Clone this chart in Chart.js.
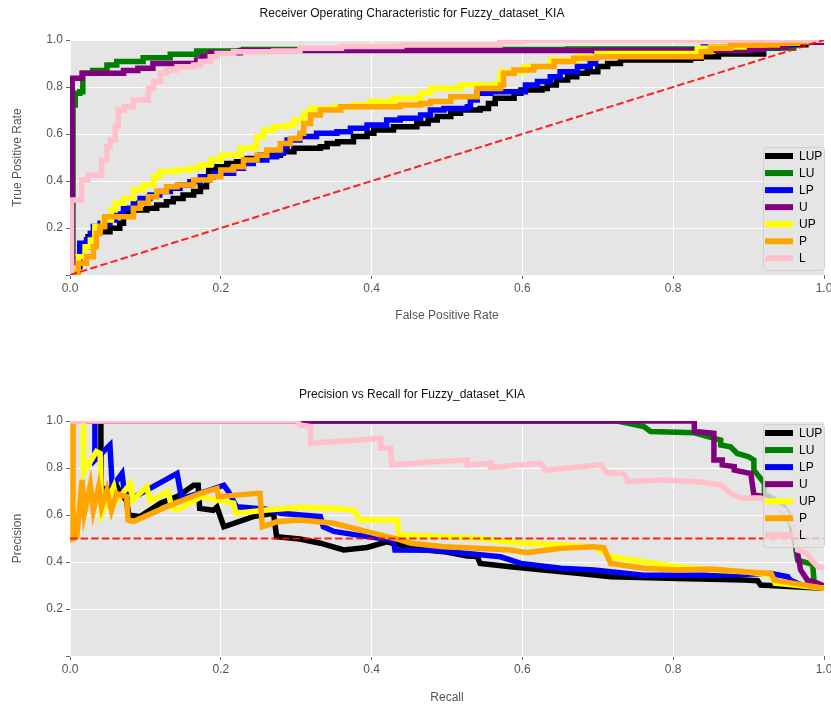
<!DOCTYPE html>
<html><head><meta charset="utf-8">
<script src="https://cdn.jsdelivr.net/npm/chart.js@4/dist/chart.umd.min.js"></script>
<style>
html,body{margin:0;padding:0;background:#fff;}
#wrap{position:relative;width:831px;height:708px;overflow:hidden;}
.box{position:absolute;left:0;width:831px;}
canvas{display:block;}
</style></head><body>
<div id="wrap">
<div class="box" style="top:0;height:345px"><canvas id="roc" width="831" height="345"></canvas></div>
<div class="box" style="top:355px;height:353px"><canvas id="pr" width="831" height="353"></canvas></div>
</div>
<script>
// ---------- data ----------
const seriesNames = ['LUP','LU','LP','U','UP','P','L'];
const tickValues = [0, 0.2, 0.4, 0.6, 0.8, 1.0];

// ROC curves (false positive rate / true positive rate)
const rocLupFpr = [0,0.002,0.013,0.024,0.031,0.04,0.053,0.066,0.071,0.084,0.102,0.115,0.128,0.137,0.15,0.164,0.173,0.181,0.184,0.195,0.208,0.221,0.235,0.252,0.279,0.297,0.332,0.341,0.355,0.376,0.394,0.403,0.429,0.46,0.475,0.487,0.505,0.518,0.544,0.555,0.564,0.589,0.598,0.626,0.633,0.645,0.66,0.672,0.686,0.70,0.713,0.73,0.823,0.837,0.86,0.92,0.94,0.958,0.976,1.0];
const rocLupTpr = [0,0.035,0.12,0.163,0.18,0.184,0.199,0.22,0.263,0.277,0.284,0.298,0.312,0.326,0.34,0.355,0.376,0.404,0.447,0.461,0.475,0.482,0.496,0.51,0.525,0.539,0.546,0.56,0.567,0.589,0.603,0.617,0.631,0.645,0.66,0.674,0.688,0.702,0.709,0.73,0.752,0.773,0.787,0.794,0.809,0.83,0.844,0.858,0.865,0.887,0.9,0.915,0.922,0.929,0.94,0.965,0.97,0.98,0.99,1.0];

const rocLuFpr = [0,0.004,0.007,0.013,0.017,0.03,0.049,0.062,0.097,0.133,0.168,0.23,0.66,0.9,0.96,0.975,1.0];
const rocLuTpr = [0,0.723,0.773,0.78,0.858,0.87,0.894,0.908,0.925,0.939,0.953,0.96,0.962,0.966,0.99,1.0,1.0];

const rocLpFpr = [0,0.002,0.007,0.013,0.022,0.027,0.031,0.04,0.053,0.06,0.071,0.084,0.093,0.106,0.119,0.133,0.146,0.159,0.173,0.19,0.217,0.23,0.243,0.261,0.274,0.283,0.288,0.305,0.327,0.354,0.372,0.394,0.42,0.438,0.465,0.478,0.496,0.527,0.531,0.54,0.558,0.604,0.62,0.637,0.65,0.673,0.69,0.697,0.70,0.828,0.84,0.9,0.96,1.0];
const rocLpTpr = [0,0.05,0.07,0.135,0.15,0.177,0.206,0.22,0.234,0.26,0.284,0.305,0.326,0.34,0.355,0.369,0.383,0.397,0.418,0.433,0.454,0.475,0.489,0.503,0.518,0.546,0.574,0.589,0.603,0.61,0.624,0.638,0.66,0.667,0.681,0.702,0.709,0.716,0.745,0.773,0.78,0.809,0.823,0.844,0.865,0.887,0.9,0.943,0.955,0.957,0.97,0.98,1.0,1.0];

const rocUFpr = [0,0.003,0.003,0.016,0.071,0.09,0.11,0.168,0.175,0.186,0.226,0.9,0.92,0.95,1.0];
const rocUTpr = [0,0.333,0.837,0.858,0.87,0.88,0.9,0.915,0.932,0.946,0.955,0.96,0.97,0.99,1.0];

const rocUpFpr = [0,0.002,0.011,0.02,0.027,0.033,0.044,0.055,0.06,0.071,0.084,0.097,0.111,0.119,0.142,0.159,0.173,0.186,0.2,0.226,0.243,0.248,0.257,0.27,0.288,0.297,0.31,0.319,0.35,0.376,0.398,0.429,0.465,0.478,0.518,0.567,0.571,0.602,0.637,0.673,0.699,0.832,0.85,0.894,0.92,0.95,1.0];
const rocUpTpr = [0,0.03,0.078,0.12,0.149,0.206,0.234,0.277,0.305,0.326,0.362,0.383,0.418,0.44,0.447,0.454,0.468,0.489,0.51,0.539,0.546,0.589,0.617,0.631,0.638,0.66,0.688,0.709,0.716,0.723,0.738,0.752,0.773,0.794,0.809,0.823,0.865,0.887,0.915,0.929,0.943,0.965,0.97,0.98,0.993,1.0,1.0];

const rocPFpr = [0,0.003,0.011,0.022,0.031,0.035,0.04,0.046,0.082,0.084,0.093,0.104,0.115,0.128,0.142,0.164,0.186,0.2,0.217,0.23,0.248,0.261,0.279,0.292,0.305,0.31,0.319,0.332,0.359,0.438,0.465,0.478,0.505,0.54,0.571,0.575,0.589,0.615,0.642,0.668,0.699,0.828,0.837,0.85,0.876,0.938,0.965,0.98,1.0];
const rocPTpr = [0,0.01,0.05,0.078,0.12,0.177,0.206,0.248,0.248,0.284,0.305,0.333,0.355,0.376,0.383,0.404,0.418,0.447,0.461,0.489,0.51,0.532,0.56,0.581,0.603,0.645,0.681,0.702,0.716,0.723,0.73,0.738,0.759,0.794,0.809,0.858,0.872,0.887,0.908,0.922,0.929,0.929,0.95,0.965,0.979,0.986,0.993,1.0,1.0];

const rocLFpr = [0,0.002,0.0155,0.024,0.042,0.049,0.053,0.06,0.064,0.072,0.084,0.104,0.111,0.12,0.128,0.142,0.164,0.173,0.186,0.195,0.217,0.27,0.305,0.36,0.44,0.57,0.6,1.0];
const rocLTpr = [0,0.319,0.404,0.425,0.489,0.546,0.574,0.631,0.702,0.716,0.745,0.794,0.823,0.858,0.872,0.886,0.894,0.908,0.929,0.943,0.95,0.953,0.965,0.972,0.979,0.993,1.0,1.0];

const chanceFpr = [0, 1];
const chanceTpr = [0, 1];

// Precision-recall curves (recall / precision)
const prLupRecall = [0,0.041,0.041,0.05,0.06,0.066,0.075,0.078,0.093,0.12,0.142,0.164,0.17,0.172,0.19,0.195,0.204,0.243,0.27,0.274,0.305,0.332,0.363,0.394,0.42,0.438,0.465,0.496,0.527,0.54,0.544,0.584,0.628,0.673,0.717,0.806,0.894,0.912,0.916,0.96,1.0];
const prLupPrecision = [1.0,1.0,0.72,0.70,0.735,0.70,0.66,0.60,0.593,0.65,0.678,0.727,0.727,0.628,0.62,0.634,0.55,0.593,0.607,0.508,0.498,0.48,0.451,0.462,0.486,0.472,0.453,0.444,0.425,0.423,0.394,0.38,0.366,0.352,0.337,0.33,0.323,0.32,0.302,0.295,0.288];

const prLuRecall = [0,0.726,0.761,0.77,0.828,0.863,0.863,0.876,0.885,0.9,0.907,0.907,0.921,0.921,0.943,0.952,0.96,0.965,0.985,0.987,1.0];
const prLuPrecision = [1.0,1.0,0.976,0.955,0.95,0.919,0.898,0.89,0.862,0.848,0.834,0.791,0.735,0.69,0.65,0.607,0.508,0.408,0.39,0.31,0.29];

const prLpRecall = [0,0.033,0.033,0.053,0.056,0.069,0.072,0.082,0.142,0.148,0.18,0.204,0.21,0.221,0.26,0.279,0.332,0.336,0.35,0.394,0.429,0.431,0.482,0.527,0.571,0.598,0.651,0.695,0.761,0.85,0.93,0.952,0.955,0.97,1.0];
const prLpPrecision = [1.0,1.0,0.834,0.898,0.72,0.777,0.70,0.671,0.777,0.671,0.70,0.727,0.70,0.635,0.625,0.607,0.593,0.55,0.53,0.508,0.494,0.451,0.45,0.436,0.422,0.394,0.373,0.366,0.344,0.344,0.351,0.337,0.323,0.302,0.288];

const prURecall = [0,0.828,0.828,0.854,0.854,0.865,0.865,0.881,0.881,0.903,0.907,0.921,0.94,0.956,0.962,0.965,0.969,0.978,0.992,1.0];
const prUPrecision = [1.0,1.0,0.955,0.948,0.834,0.834,0.813,0.806,0.791,0.776,0.685,0.678,0.64,0.579,0.5,0.437,0.366,0.323,0.309,0.298];

const prUpRecall = [0,0.018,0.018,0.035,0.04,0.042,0.058,0.062,0.08,0.083,0.102,0.106,0.13,0.135,0.142,0.173,0.2,0.217,0.22,0.261,0.305,0.35,0.376,0.385,0.434,0.436,0.491,0.54,0.593,0.651,0.695,0.717,0.761,0.806,0.85,0.894,0.93,0.935,0.96,1.0];
const prUpPrecision = [1.0,1.0,0.78,0.87,0.862,0.607,0.72,0.66,0.734,0.663,0.72,0.66,0.70,0.63,0.621,0.676,0.66,0.65,0.607,0.621,0.632,0.628,0.621,0.579,0.579,0.515,0.508,0.501,0.482,0.473,0.465,0.422,0.401,0.38,0.366,0.359,0.344,0.31,0.302,0.288];

const prPRecall = [0,0.004,0.004,0.009,0.016,0.019,0.027,0.031,0.038,0.042,0.049,0.055,0.062,0.066,0.075,0.077,0.084,0.128,0.173,0.195,0.197,0.248,0.252,0.255,0.274,0.305,0.35,0.394,0.438,0.452,0.496,0.54,0.584,0.606,0.651,0.695,0.708,0.717,0.761,0.806,0.85,0.894,0.93,0.934,0.96,1.0];
const prPPrecision = [1.0,1.0,0.5,0.508,0.749,0.607,0.728,0.62,0.72,0.635,0.706,0.62,0.692,0.685,0.678,0.579,0.572,0.635,0.692,0.713,0.678,0.692,0.692,0.55,0.571,0.579,0.565,0.529,0.494,0.48,0.465,0.458,0.451,0.44,0.458,0.465,0.46,0.394,0.373,0.366,0.37,0.359,0.351,0.323,0.309,0.288];

const prLRecall = [0,0.301,0.305,0.319,0.319,0.412,0.412,0.425,0.427,0.482,0.527,0.527,0.558,0.558,0.624,0.631,0.651,0.704,0.712,0.735,0.74,0.784,0.832,0.863,0.876,0.889,0.916,0.947,0.96,0.965,0.978,0.983,0.992,1.0];
const prLPrecision = [1.0,1.0,0.983,0.976,0.905,0.926,0.884,0.884,0.813,0.827,0.834,0.813,0.82,0.802,0.82,0.791,0.798,0.813,0.78,0.775,0.742,0.749,0.742,0.728,0.693,0.672,0.672,0.621,0.55,0.451,0.437,0.409,0.38,0.373];

const baselineRecall = [0, 1];
const baselinePrecision = [0.5, 0.5];

// ---------- styling ----------
const seriesColors = ['#000000','#008000','#0000ff','#800080','#ffff00','#ffa500','#ffc0cb'];
const FONT = '"Liberation Sans", Arial, "DejaVu Sans", sans-serif';
Chart.defaults.font.family = FONT;
Chart.defaults.font.size = 12;

function pts(xs, ys) { return xs.map((x, i) => ({x: x, y: ys[i]})); }

const rocSeries = [[rocLupFpr,rocLupTpr],[rocLuFpr,rocLuTpr],[rocLpFpr,rocLpTpr],[rocUFpr,rocUTpr],[rocUpFpr,rocUpTpr],[rocPFpr,rocPTpr],[rocLFpr,rocLTpr]];
const prSeries = [[prLupRecall,prLupPrecision],[prLuRecall,prLuPrecision],[prLpRecall,prLpPrecision],[prURecall,prUPrecision],[prUpRecall,prUpPrecision],[prPRecall,prPPrecision],[prLRecall,prLPrecision]];

function buildDatasets(series, stepped, refX, refY) {
  const ds = series.map((s, i) => ({
    label: seriesNames[i],
    data: pts(s[0], s[1]),
    borderColor: seriesColors[i],
    backgroundColor: seriesColors[i],
    borderWidth: 5.5,
    pointRadius: 0,
    tension: 0,
    stepped: stepped,
    fill: false,
    clip: 0,
    borderJoinStyle: 'miter',
    order: seriesNames.length - i
  }));
  ds.push({
    label: 'ref',
    isRef: true,
    data: pts(refX, refY),
    borderColor: 'rgba(255,0,0,0.85)',
    borderWidth: 2,
    borderDash: [7.4, 3.2],
    pointRadius: 0,
    tension: 0,
    fill: false,
    clip: 0,
    order: 0
  });
  return ds;
}

const bgPlugin = {
  id: 'axbg',
  beforeDraw(chart) {
    const {ctx, chartArea: a} = chart;
    ctx.save();
    ctx.fillStyle = '#e5e5e5';
    ctx.fillRect(a.left, a.top, a.right - a.left, a.bottom - a.top);
    ctx.restore();
  }
};

const boxLegend = {
  id: 'boxLegend',
  afterDraw(chart, args, opts) {
    const ctx = chart.ctx, a = chart.chartArea;
    const items = chart.data.datasets.filter(d => !d.isRef);
    const rowH = 17.05, w = 62, h = 123;
    const left = a.right + 1 - w;
    const top = opts.where === 'top' ? a.top + 3 : a.bottom - 5 - h;
    ctx.save();
    ctx.beginPath();
    if (ctx.roundRect) ctx.roundRect(left + 0.5, top + 0.5, w - 1, h, 3); else ctx.rect(left + 0.5, top + 0.5, w - 1, h);
    ctx.fillStyle = 'rgba(229,229,229,0.8)';
    ctx.fill();
    ctx.strokeStyle = 'rgba(204,204,204,0.8)';
    ctx.lineWidth = 1;
    ctx.stroke();
    items.forEach((d, i) => {
      const cy = top + 9 + i * rowH;
      ctx.strokeStyle = d.borderColor;
      ctx.lineWidth = 6;
      ctx.beginPath();
      ctx.moveTo(left + 2, cy);
      ctx.lineTo(left + 30, cy);
      ctx.stroke();
      ctx.fillStyle = '#000';
      ctx.font = '12px ' + FONT;
      ctx.textBaseline = 'middle';
      ctx.textAlign = 'left';
      ctx.fillText(d.label, left + 36, cy + 0.5);
    });
    ctx.restore();
  }
};

function axis(titleText, isX, fitSize, titlePad) {
  return {
    type: 'linear', min: 0, max: 1,
    afterBuildTicks: s => { s.ticks = tickValues.map(v => ({value: v})); },
    ticks: {
      callback: v => (isX || v !== 0) ? Number(v).toFixed(1) : '',
      color: '#555', font: {size: 12}, padding: isX ? 2 : 3,
      maxRotation: 0, autoSkip: false
    },
    grid: {color: '#ffffff', lineWidth: 1, tickColor: '#666', tickLength: 4, drawTicks: true},
    border: {display: false},
    title: {display: true, text: titleText, color: '#555', font: {size: 12}, padding: titlePad},
    afterFit: s => {
      if (isX) { s.height = fitSize; s.paddingLeft = 0; s.paddingRight = 0; }
      else { s.width = fitSize; s.paddingTop = 0; s.paddingBottom = 0; }
    }
  };
}

function makeChart(id, datasets, titleText, titlePad, xTitle, xHeight, xTitlePad, yTitle, legendWhere) {
  return new Chart(document.getElementById(id), {
    type: 'line',
    data: {datasets: datasets},
    options: {
      responsive: false,
      animation: false,
      events: [],
      layout: {padding: {left: 0, right: 7, top: 0, bottom: 0}},
      scales: {
        x: axis(xTitle, true, xHeight, xTitlePad),
        y: axis(yTitle, false, 70, {top: 10.8, bottom: 0})
      },
      plugins: {
        legend: {display: false},
        tooltip: {enabled: false},
        title: {display: true, text: titleText, color: '#111', font: {size: 12, weight: 'normal'}, padding: titlePad},
        boxLegend: {where: legendWhere}
      }
    },
    plugins: [bgPlugin, boxLegend]
  });
}

makeChart('roc', buildDatasets(rocSeries, true, chanceFpr, chanceTpr),
  'Receiver Operating Characteristic for Fuzzy_dataset_KIA', {top: 6, bottom: 19.6},
  'False Positive Rate', 70, {top: 0, bottom: 21.8}, 'True Positive Rate', 'bottom');

makeChart('pr', buildDatasets(prSeries, false, baselineRecall, baselinePrecision),
  'Precision vs Recall for Fuzzy_dataset_KIA', {top: 32.1, bottom: 19.5},
  'Recall', 52, {top: 0, bottom: 2.8}, 'Precision', 'top');
</script>
</body></html>
